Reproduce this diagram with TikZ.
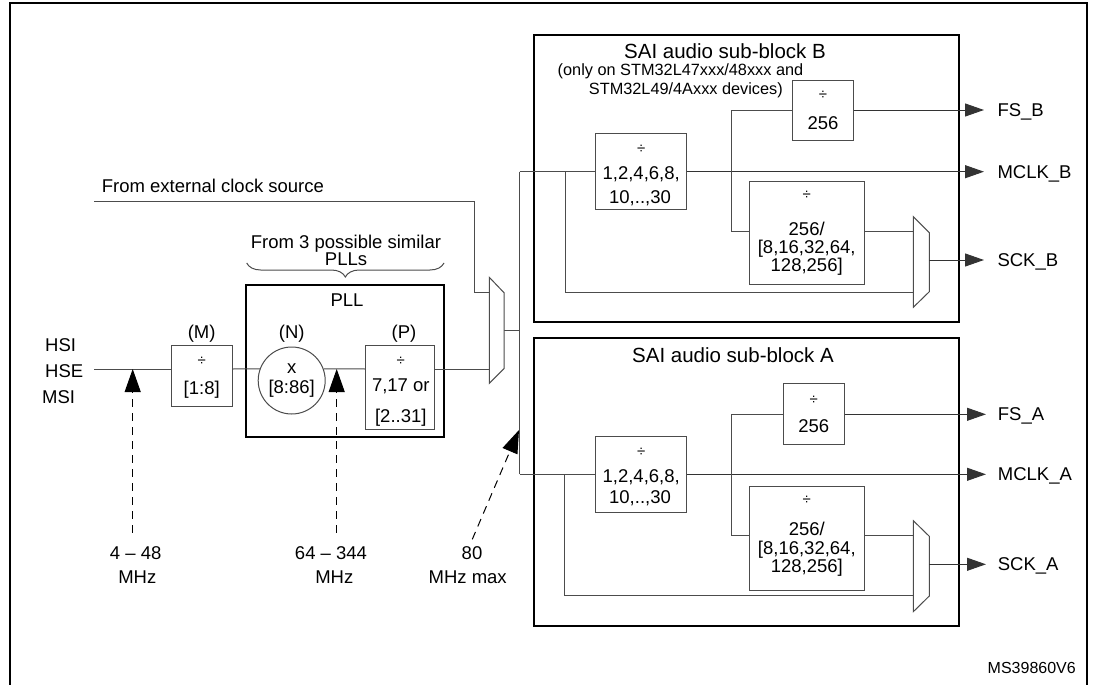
\documentclass[tikz,border=0pt]{standalone}
\usepackage{fontspec}
\setmainfont{Liberation Sans}
\usetikzlibrary{arrows.meta,decorations.pathreplacing}
\begin{document}
\begin{tikzpicture}[x=1pt,y=-1pt,
  wire/.style={draw=black!70, line width=1pt},
  box/.style={draw=black!70, line width=1pt, fill=white, inner sep=0pt},
  bigbox/.style={draw=black, line width=1.8pt, inner sep=0pt},
  lbl/.style={font=\fontsize{18.5}{20}\selectfont, inner sep=0pt, text height=13.2pt, text depth=0pt},
  ttl/.style={font=\fontsize{20.5}{22}\selectfont, inner sep=0pt, text height=14.6pt, text depth=0pt},
  sml/.style={font=\fontsize{16.3}{18}\selectfont, inner sep=0pt, text height=11.7pt, text depth=0pt},
  dv/.style={font=\fontsize{15}{16}\selectfont, inner sep=0pt, text height=9.6pt, text depth=0pt},
  outarr/.style={wire, draw=black!80, -{Triangle[length=19pt,width=13pt]}},
  measarr/.style={draw=black, line width=1pt, dash pattern=on 8pt off 6pt, -{Triangle[length=23pt,width=16pt]}},
  muxs/.style={draw=black!70, line width=1pt, fill=white}
]
\useasboundingbox (0,0) rectangle (1093,685);
% frame
\draw[line width=2.3pt] (10,690) -- (10,3) -- (1087,3) -- (1087,690);

% ---------- sub-block boxes ----------
\node[bigbox, minimum width=425pt, minimum height=287.3pt] (SB) at (746.8,178.7) {};
\node[bigbox, minimum width=425pt, minimum height=287.4pt] (SA) at (746.8,482) {};
\node[bigbox, minimum width=198pt, minimum height=151.7pt] (PLL) at (345,361.2) {};

% ---------- coordinates ----------
\coordinate (extS) at (94.3,201.7);
\coordinate (extC) at (474,201.7);
\coordinate (inS) at (94.3,369);
\coordinate (muxPin1) at (489.3,292.7);
\coordinate (muxPin2) at (489.3,369);
\coordinate (muxPout) at (504,330.7);
\coordinate (busM) at (519.5,330.7);
\coordinate (busT) at (519.5,171.7);
\coordinate (busB) at (519.5,474.3);
\coordinate (brB) at (565,171.7);
\coordinate (brA) at (564.3,474.3);
\coordinate (vB) at (731.7,171.7);
\coordinate (vA) at (731.7,474.3);
\coordinate (muxBin1) at (913.3,231.7);
\coordinate (muxBin2) at (913.3,292.3);
\coordinate (muxBout) at (929.3,260);
\coordinate (muxAin1) at (913.3,535);
\coordinate (muxAin2) at (913.3,595.7);
\coordinate (muxAout) at (929.3,564.3);
\coordinate (fsBend) at (984,110);
\coordinate (mcBend) at (984,171.7);
\coordinate (sckBend) at (984,260);
\coordinate (fsAend) at (986,414.3);
\coordinate (mcAend) at (986,474.3);
\coordinate (sckAend) at (986,564.3);
\coordinate (m1b) at (132.7,532.7);
\coordinate (m1t) at (132.7,369);
\coordinate (m2b) at (336.7,532.7);
\coordinate (m2t) at (336.7,369);
\coordinate (m3b) at (472.3,539.3);
\coordinate (m3t) at (519,430);

% ---------- wires ----------
\draw[wire] (extS) -- (extC) |- (muxPin1);
\draw[wire] (muxPout) -- (busM);
\draw[wire] (busT) -- (busB);
\draw[wire] (brB) |- (muxBin2);
\draw[wire] (brA) |- (muxAin2);

% ---------- PLL chain ----------
\node[box, minimum width=61.3pt, minimum height=61pt] (M) at (201.7,376.2) {};
\node[box, circle, minimum size=67pt] (N) at (291.7,380.5) {};
\node[box, minimum width=68.7pt, minimum height=84.3pt] (P) at (400.3,387.8) {};
\draw[wire] (inS) -- (M.west |- inS);
\draw[wire] (M.east |- inS) -- (N.160);
\draw[wire] (N.20) -- (P.west |- inS);
\draw[wire] (P.east |- inS) -- (muxPin2);

% ---------- muxes ----------
\draw[muxs] (489.3,277.3) -- (504,292.7) -- (504,368.7) -- (489.3,383.3) -- cycle;
\draw[muxs] (913.3,216.7) -- (929.3,232.7) -- (929.3,291.7) -- (913.3,307.3) -- cycle;
\draw[muxs] (913.3,520.7) -- (929.3,536.3) -- (929.3,596) -- (913.3,611.7) -- cycle;

% ---------- sub-block B ----------
\node[box, minimum width=91pt, minimum height=75.7pt] (DB) at (641.2,171.2) {};
\node[box, minimum width=60.6pt, minimum height=60pt] (FB) at (823,110.7) {};
\node[box, minimum width=115.3pt, minimum height=103.3pt] (KB) at (806.7,233.3) {};
\draw[wire] (busT) -- (DB.west |- busT);
\draw[outarr] (DB.east |- busT) -- (mcBend);
\draw[wire] (FB.west |- fsBend) -| (vB) |- (KB.west |- muxBin1);
\draw[outarr] (FB.east |- fsBend) -- (fsBend);
\draw[wire] (KB.east |- muxBin1) -- (muxBin1);
\draw[outarr] (muxBout) -- (sckBend);

% ---------- sub-block A ----------
\node[box, minimum width=91pt, minimum height=76pt] (DA) at (641.2,474.7) {};
\node[box, minimum width=61pt, minimum height=61pt] (FA) at (813.8,413.8) {};
\node[box, minimum width=115pt, minimum height=104.3pt] (KA) at (806.8,538.8) {};
\draw[wire] (busB) -- (DA.west |- busB);
\draw[outarr] (DA.east |- busB) -- (mcAend);
\draw[wire] (FA.west |- fsAend) -| (vA) |- (KA.west |- muxAin1);
\draw[outarr] (FA.east |- fsAend) -- (fsAend);
\draw[wire] (KA.east |- muxAin1) -- (muxAin1);
\draw[outarr] (muxAout) -- (sckAend);

% ---------- measurement arrows ----------
\draw[measarr] (m1b) -- (m1t);
\draw[measarr] (m2b) -- (m2t);
\draw[measarr] (m3b) -- (m3t);

% brace
\draw[draw=black!70, line width=1pt, decorate, decoration={brace, amplitude=14pt}] (444,263) -- (246.7,263);

% ---------- texts ----------
\node[lbl, anchor=west] (tExt) at (101.7,185.7) {From external clock source};
\node[lbl] (tF3) at (346,241.7) {From 3 possible similar};
\node[lbl] (tF3b) at (346,259) {PLLs};
\node[lbl] (tPLL) at (347,300) {PLL};
\node[lbl] (tMl) at (201.7,331.7) {(M)};
\node[lbl] (tNl) at (291.7,331.7) {(N)};
\node[lbl] (tPl) at (404,331.7) {(P)};
\node[lbl, anchor=west] (tHSI) at (45,345) {HSI};
\node[lbl, anchor=west] (tHSE) at (45,371) {HSE};
\node[lbl, anchor=west] (tMSI) at (42,396.7) {MSI};
\node[dv] (tM1) at (201.7,360.7) {÷};
\node[lbl] (tM2) at (201.7,388.3) {[1:8]};
\node[lbl] (tN1) at (291.7,366.7) {x};
\node[lbl] (tN2) at (291.7,387.3) {[8:86]};
\node[dv] (tP1) at (400.8,360.7) {÷};
\node[lbl] (tP2) at (400.8,385) {7,17 or};
\node[lbl] (tP3) at (400.8,416) {[2..31]};
\node[lbl] (tb1) at (135.7,553.3) {4 – 48};
\node[lbl] (tb2) at (137.3,576.7) {MHz};
\node[lbl] (tb3) at (331,553.3) {64 – 344};
\node[lbl] (tb4) at (334.3,576.7) {MHz};
\node[lbl] (tb5) at (472,553.3) {80};
\node[lbl] (tb6) at (467.7,576.7) {MHz max};

\node[ttl] (tSB) at (725,51.7) {SAI audio sub-block B};
\node[sml] (tSB2) at (680.5,70) {(only on STM32L47xxx/48xxx and};
\node[sml, anchor=east] (tSB3) at (783,88.3) {STM32L49/4Axxx devices)};
\node[dv] (tDB1) at (641.2,149) {÷};
\node[lbl] (tDB2) at (641.2,173.3) {1,2,4,6,8,};
\node[lbl] (tDB3) at (640,196.7) {10,..,30};
\node[dv] (tFB1) at (823,95) {÷};
\node[lbl] (tFB2) at (823,122.7) {256};
\node[dv] (tKB1) at (806.7,195) {÷};
\node[lbl] (tKB2) at (806.7,229) {256/};
\node[lbl] (tKB3) at (806.7,247) {[8,16,32,64,};
\node[lbl] (tKB4) at (806.7,265) {128,256]};
\node[lbl, anchor=west] (oFB) at (997.3,110) {FS\_B};
\node[lbl, anchor=west] (oMB) at (997.3,171.7) {MCLK\_B};
\node[lbl, anchor=west] (oSB) at (997.3,260) {SCK\_B};

\node[ttl] (tSA) at (733,355) {SAI audio sub-block A};
\node[dv] (tDA1) at (641.2,451.7) {÷};
\node[lbl] (tDA2) at (641.2,475.7) {1,2,4,6,8,};
\node[lbl] (tDA3) at (640,496.7) {10,..,30};
\node[dv] (tFA1) at (813.8,399.3) {÷};
\node[lbl] (tFA2) at (813.8,426) {256};
\node[dv] (tKA1) at (806.8,499.3) {÷};
\node[lbl] (tKA2) at (806.8,529.3) {256/};
\node[lbl] (tKA3) at (806.8,547.5) {[8,16,32,64,};
\node[lbl] (tKA4) at (806.8,565.5) {128,256]};
\node[lbl, anchor=west] (oFA) at (997.7,414.3) {FS\_A};
\node[lbl, anchor=west] (oMA) at (997.7,474.3) {MCLK\_A};
\node[lbl, anchor=west] (oSA) at (997.7,564.3) {SCK\_A};

\node[font=\fontsize{16}{18}\selectfont, inner sep=0pt, anchor=east] (tMS) at (1076,668.3) {MS39860V6};
\end{tikzpicture}
\end{document}
